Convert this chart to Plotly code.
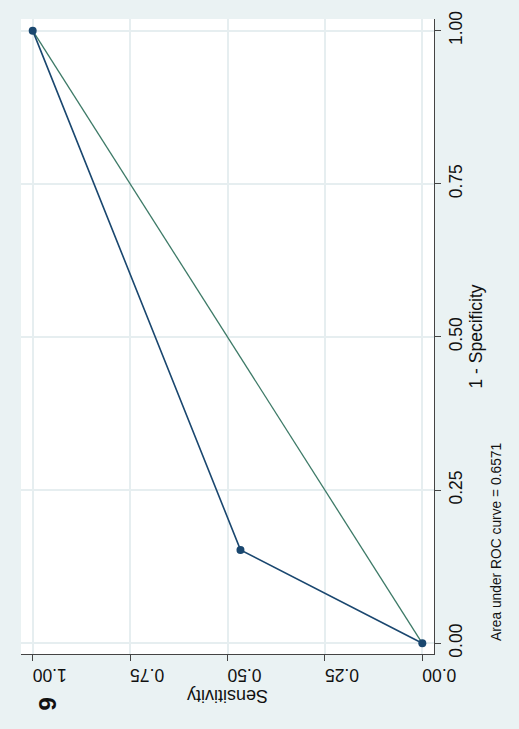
import plotly.graph_objects as go

# ROC data (1 - specificity, sensitivity)
one_minus_spec = [0.0, 0.1524, 1.0]
sensitivity = [0.0, 0.4667, 1.0]
ref_line = [0.0, 1.0]
tick_vals = [0.0, 0.25, 0.5, 0.75, 1.0]
tick_text = ["0.00", "0.25", "0.50", "0.75", "1.00"]
auc_note = "Area under ROC curve = 0.6571"
panel_label = "9"

NAVY = "#1A476F"
GREEN = "#3D7A67"
BG = "#EAF2F3"
GRID = "#E6EEF0"
FONT = "Liberation Sans, Arial, sans-serif"
TXT = "#111"

fig = go.Figure()
# figure is rotated: plotly x = sensitivity, plotly y = 1 - specificity
fig.add_trace(go.Scatter(x=ref_line, y=ref_line, mode="lines",
                         line=dict(color=GREEN, width=1.3), hoverinfo="skip"))
fig.add_trace(go.Scatter(x=sensitivity, y=one_minus_spec, mode="lines+markers",
                         line=dict(color=NAVY, width=1.6),
                         marker=dict(color=NAVY, size=8)))

fig.update_layout(
    width=519, height=729,
    margin=dict(l=21, r=85, t=19, b=75),
    paper_bgcolor=BG, plot_bgcolor="white",
    showlegend=False,
    font=dict(family=FONT, color=TXT, size=17),
    xaxis=dict(range=[1.03, -0.03], tickvals=tick_vals, ticktext=tick_text,
               tickangle=180, showgrid=True, gridcolor=GRID, gridwidth=1.5,
               zeroline=False, showline=True, linecolor="#444", linewidth=1,
               ticks="outside", ticklen=6, tickcolor="#444",
               ticklabelstandoff=4,
               tickfont=dict(size=17.5, family=FONT, color=TXT), side="bottom"),
    yaxis=dict(range=[-0.0175, 1.019], tickvals=tick_vals, ticktext=tick_text,
               tickangle=-90, side="right", showgrid=True, gridcolor=GRID,
               gridwidth=1.5, zeroline=False, showline=True, linecolor="#444",
               linewidth=1, ticks="outside", ticklen=6, tickcolor="#444",
               tickfont=dict(size=17.5, family=FONT, color=TXT),
               title=dict(text="1 - Specificity", font=dict(size=17.5, family=FONT, color=TXT),
                          standoff=1)),
)

fig.add_annotation(text="Sensitivity", xref="x", yref="paper", x=0.5, y=-0.066,
                   textangle=180, showarrow=False, yanchor="middle",
                   font=dict(size=18, family=FONT, color=TXT))
fig.add_annotation(text=auc_note, xref="paper", yref="y", x=1.152, y=0,
                   xanchor="center", yanchor="bottom", textangle=-90,
                   showarrow=False, font=dict(size=13.8, family=FONT, color=TXT))
fig.add_annotation(text="<b>" + panel_label + "</b>", xref="paper", yref="paper",
                   x=0.027, y=-0.092, textangle=-90, showarrow=False,
                   font=dict(size=24, family=FONT, color=TXT))

fig.write_html("out.html")
